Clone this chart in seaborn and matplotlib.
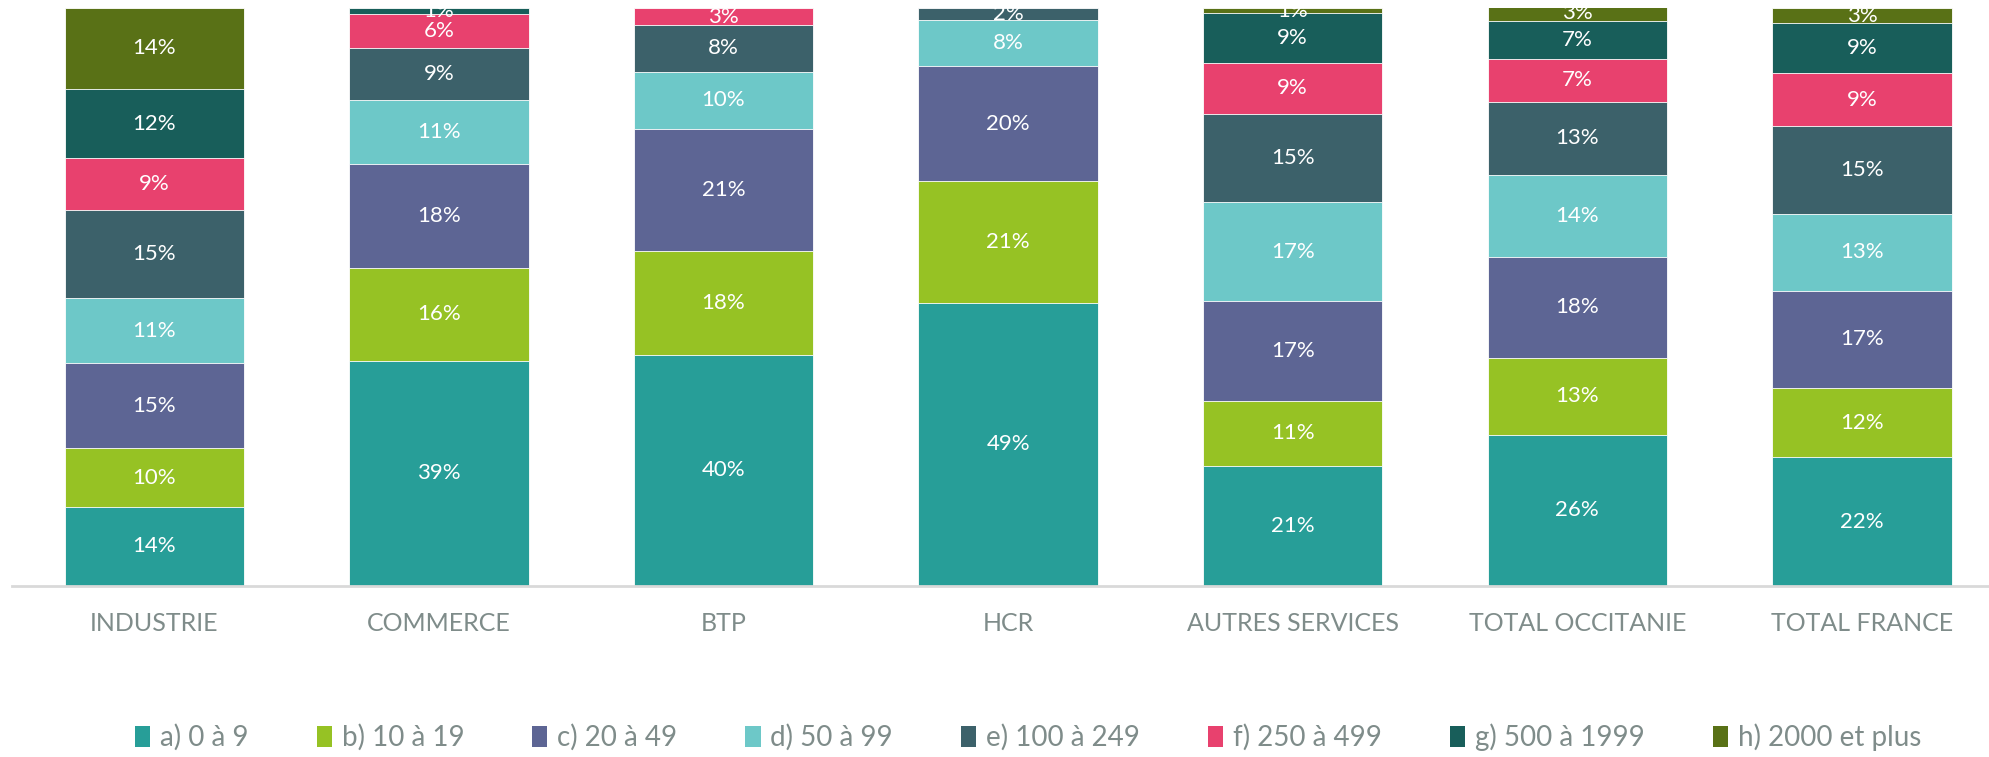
import numpy as np
import pandas as pd
import matplotlib.pyplot as plt
import seaborn as sns
from matplotlib.patches import Patch

# -----------------------------
# Data (shares in %)
# -----------------------------
SECTEURS = ["INDUSTRIE", "COMMERCE", "BTP", "HCR", "AUTRES SERVICES",
            "TOTAL OCCITANIE", "TOTAL FRANCE"]
TRANCHES = ["a) 0 à 9", "b) 10 à 19", "c) 20 à 49", "d) 50 à 99",
            "e) 100 à 249", "f) 250 à 499", "g) 500 à 1999", "h) 2000 et plus"]

T_0_9 = [13.7, 39.0, 40.0, 49.0, 20.8, 26.2, 22.3]
T_10_19 = [10.1, 16.0, 18.0, 21.0, 11.2, 13.2, 11.9]
T_20_49 = [14.8, 18.0, 21.0, 20.0, 17.3, 17.6, 16.9]
T_50_99 = [11.2, 11.0, 10.0, 8.0, 17.1, 14.1, 13.2]
T_100_249 = [15.2, 9.0, 8.0, 2.0, 15.3, 12.7, 15.2]
T_250_499 = [9.0, 6.0, 3.0, 0.0, 8.8, 7.4, 9.2]
T_500_1999 = [12.0, 1.0, 0.0, 0.0, 8.6, 6.6, 8.7]
T_2000_PLUS = [14.0, 0.0, 0.0, 0.0, 0.9, 2.6, 2.6]

COLORS = ["#279e98", "#96c224", "#5d6594", "#6dc8c8",
          "#3c616a", "#e8416e", "#185e5a", "#597116"]

LAYERS = [T_0_9, T_10_19, T_20_49, T_50_99, T_100_249,
          T_250_499, T_500_1999, T_2000_PLUS]

FONT = ["Lato", "DejaVu Sans"]
GREY_TXT = "#7f8c8a"


def main():
    sns.set_style("white")
    plt.rcParams["font.family"] = FONT

    df = pd.DataFrame(np.array(LAYERS).T, columns=TRANCHES)
    df.insert(0, "secteur", SECTEURS)
    cum = df[TRANCHES].cumsum(axis=1)

    fig = plt.figure(figsize=(19.90, 7.57), dpi=100)
    ax = fig.add_axes([12 / 1990, 1 - 586 / 757, 1 - 12 / 1990, (586 - 8) / 757])

    # draw cumulative bars from top layer down so each layer sits on top
    for i in range(len(TRANCHES) - 1, -1, -1):
        col = TRANCHES[i]
        sns.barplot(x=df["secteur"], y=cum[col], color=COLORS[i], ax=ax,
                    width=0.63, saturation=1, edgecolor="#ffffff",
                    linewidth=0.6, order=SECTEURS)

    # value labels
    for j, sec in enumerate(SECTEURS):
        lo = 0.0
        for i, col in enumerate(TRANCHES):
            v = df.loc[j, col]
            if v > 0.2:
                ax.text(j, lo + v / 2, f"{v:.0f}%", ha="center", va="center",
                        color="white", fontsize=16)
            lo += v

    ax.set_xlim(-0.5, 6.45)
    ax.set_ylim(0, 100)
    ax.set_xlabel("")
    ax.set_ylabel("")
    ax.set_yticks([])
    for s in ["top", "left", "right"]:
        ax.spines[s].set_visible(False)
    ax.spines["bottom"].set_color("#d9d9d9")
    ax.spines["bottom"].set_linewidth(2)
    ax.tick_params(axis="x", length=0, pad=19, labelsize=18, labelcolor=GREY_TXT)

    handles = [Patch(facecolor=c, edgecolor="none") for c in COLORS]
    fig.legend(handles, TRANCHES, loc="center", bbox_to_anchor=(0.5166, 1 - 737 / 757),
               ncol=8, frameon=False, fontsize=20, labelcolor=GREY_TXT,
               handlelength=0.55, handleheight=0.8, handletextpad=0.35,
               columnspacing=2.45)

    fig.savefig("out.png", dpi=100)
    plt.close(fig)


if __name__ == "__main__":
    main()
